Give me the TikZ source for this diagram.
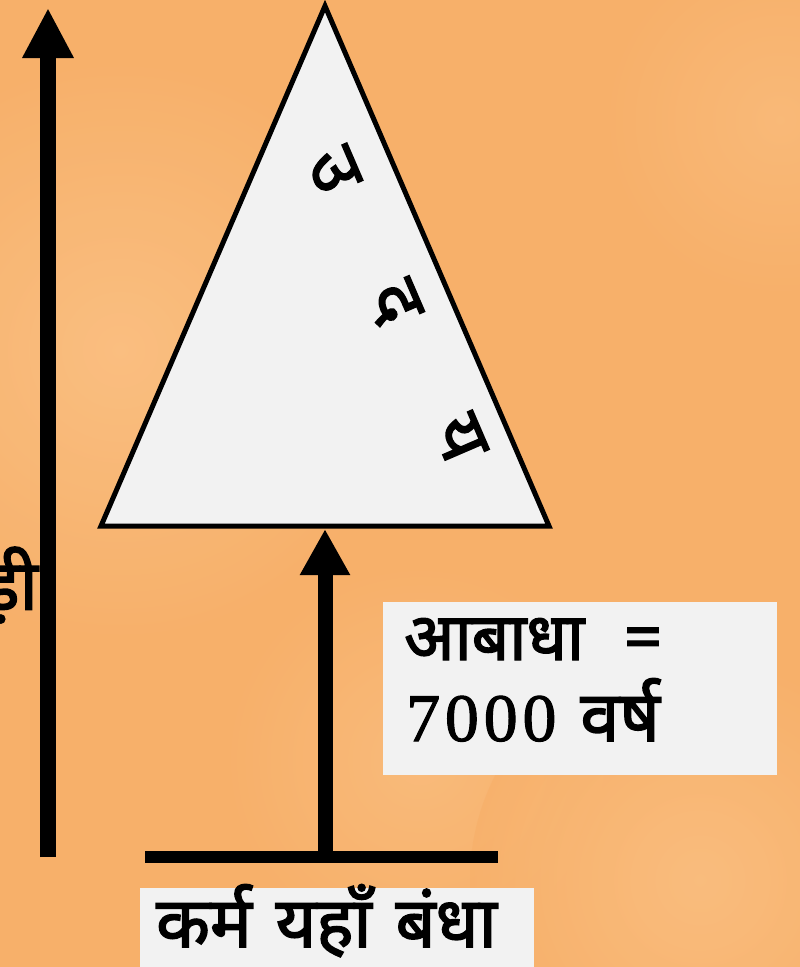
\documentclass[tikz,border=0pt]{standalone}
\usepackage{fontspec}
\usetikzlibrary{arrows.meta}
\newfontfamily\dev[Script=Devanagari,FakeBold=2.2]{Noto Sans}
\newfontfamily\digits[FakeBold=1.5,LetterSpace=7]{Liberation Serif}
\definecolor{bgmid}{RGB}{247,176,106}
\definecolor{bglight}{RGB}{251,194,134}
\definecolor{boxfill}{RGB}{242,242,242}
\tikzset{
  thickarrow/.style={line width=16pt,-{Triangle[width=48pt,length=50pt]}},
  rotletter/.style={rotate=-66.7,font=\dev\fontsize{72}{76}\selectfont}
}
\begin{document}
\begin{tikzpicture}[x=1pt,y=-1pt]
\useasboundingbox (0,0) rectangle (800,967);
\clip (0,0) rectangle (800,967);
% background
\fill[bgmid] (0,0) rectangle (800,967);
\shade[inner color=bglight,outer color=bgmid,opacity=0.8] (120,350) circle (300);
\shade[inner color=bglight,outer color=bgmid,opacity=0.6] (420,760) circle (200);
\shade[inner color=bglight,outer color=bgmid,opacity=0.7] (700,880) circle (230);
\shade[inner color=bglight,outer color=bgmid,opacity=0.5] (780,120) circle (180);
% side label (mostly off-page, as in the reference)
\node[anchor=east,font=\dev\fontsize{70}{74}\selectfont,inner sep=0pt] (side) at (38,585) {कोड़ाकोड़ी};
% left long arrow
\coordinate (lbot) at (48,857);
\coordinate (ltop) at (48,8);
\draw[thickarrow] (lbot) -- (ltop);
% triangle
\coordinate (apex) at (325,6);
\coordinate (bl) at (101,526);
\coordinate (br) at (549,526);
\draw[line width=5pt,fill=boxfill,line join=miter] (apex) -- (bl) -- (br) -- cycle;
\node[rotletter] (u) at (334,170) {उ};
\node[rotletter] (d) at (394,303) {द};
\node[rotletter] (y) at (460,438) {य};
% base line and middle arrow
\coordinate (hl) at (145,857);
\coordinate (hr) at (498,857);
\draw[line width=12pt] (hl) -- (hr);
\coordinate (mbot) at (325,857);
\coordinate (mtop) at (325,529);
\draw[line width=15pt,-{Triangle[width=47pt,length=46pt]}] (mbot) -- (mtop);
% abadha box
\fill[boxfill] (383,602) rectangle (777,775);
\node[anchor=base west,inner sep=0pt,font=\dev\fontsize{66}{70}\selectfont] (ab) at (404,660) {आबाधा\hspace{40pt}=};
\node[anchor=base west,inner sep=0pt] (yr) at (406,741) {{\digits\fontsize{68}{70}\selectfont 7000}\hspace{24pt}{\dev\fontsize{70}{70}\selectfont वर्ष}};
% bottom box
\fill[boxfill] (140,888) rectangle (534,970);
\node[anchor=base west,inner sep=0pt,font=\dev\fontsize{70}{74}\selectfont] (karm) at (156,947) {कर्म\hspace{24pt}यहाँ\hspace{24pt}बंधा};
\end{tikzpicture}
\end{document}
